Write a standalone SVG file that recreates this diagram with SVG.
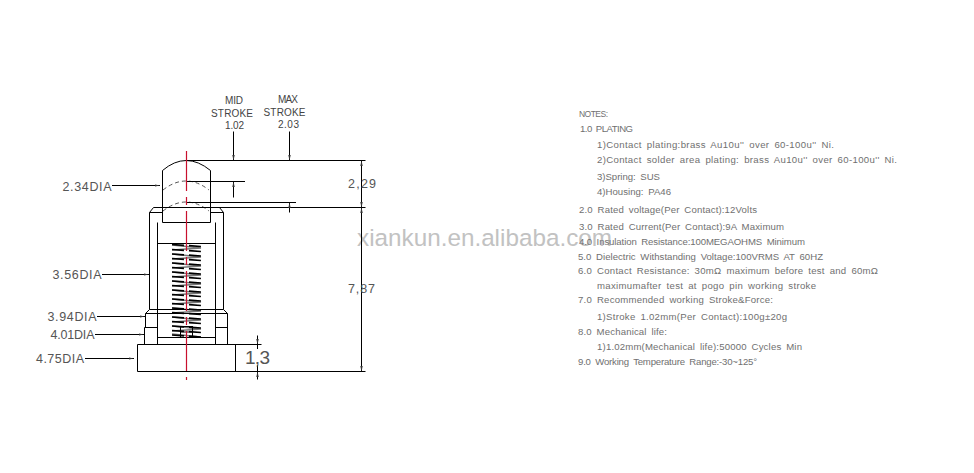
<svg xmlns="http://www.w3.org/2000/svg" width="974" height="473" viewBox="0 0 974 473">
<defs>
<marker id="tip" markerUnits="userSpaceOnUse" markerWidth="6" markerHeight="4" refX="5.500" refY="2" orient="auto"><path d="M0 .8L5.500 2L0 3.200Z" fill="#333"/></marker>
</defs>
<style>
text{font-family:"Liberation Sans",Arial,sans-serif}
.wm{font-size:24.3px;fill:#c2c2c2}
.d{font-size:12.5px;fill:#555}
.s{font-size:10px;fill:#444}
.n{font-size:9.6px;fill:#707070;word-spacing:2px}
.l{fill:none;stroke:#000;stroke-width:1}
.a{fill:none;stroke:#000;stroke-width:1;marker-end:url(#tip)}
.dash{fill:none;stroke:#555;stroke-width:1;stroke-dasharray:4 3}
.c{fill:none;stroke:#c8102e;stroke-width:1.2;stroke-dasharray:40 6 8 6}
.sg{fill:none;stroke:#777;stroke-width:1.5}
.sb{fill:none;stroke:#000;stroke-width:1.7;stroke-dasharray:12 5 12}
</style>
<rect width="974" height="473" fill="#fff"/>
<text class="wm" x="357" y="246" textLength="255" lengthAdjust="spacingAndGlyphs">xiankun.en.alibaba.com</text>
<g id="spring">
<path class="sg" d="M172 245L201 248L172 250M172 254L201 257L172 259M172 263L201 266L172 268M172 272L201 275L172 277M172 281L201 284L172 286M172 290L201 293L172 295M172 299L201 302L172 304M172 308L201 311L172 313M172 317L201 320L172 322M172 326L201 329L172 331M172 334L201 337"/>
<path class="sb" d="M172 244.500L201 246.500M172 249.500L201 251.500M172 254L201 256M172 258.500L201 260.500M172 263L201 265M172 267.500L201 269.500M172 272L201 274M172 276.500L201 278.500M172 281L201 283M172 285.500L201 287.500M172 290L201 292M172 294.500L201 296.500M172 299L201 301M172 303.500L201 305.500M172 308L201 310M172 312.500L201 314.500M172 317L201 319M172 321.500L201 323.500M172 326L201 328M172 330.500L201 332.500M172 335L201 337"/>
</g>
<g id="plunger">
<path class="l" d="M162.500 222.500V170.500Q186 150.500 210.500 170.500V222.500M162.500 222.500H210.500"/>
<path class="dash" d="M163 190Q186 172 209 190M163 211Q186 193 209 211"/>
</g>
<g id="housing">
<path class="l" d="M149.500 212.500V309.500M223.500 212.500V309.500M149.500 212.500L153.500 207.500H219.500L223.500 212.500M149.500 212.500H162.500M210.500 212.500H223.500M157.500 222.500V344.500M215.500 222.500V344.500M157.500 243.500H215.500M149.500 309.500H223.500M149.500 309.500L145.500 313.500H227.500L223.500 309.500M145.500 313.500V327.500M227.500 313.500V344.500M144.500 327.500H157.500M215.500 327.500H227.500M144.500 327.500V344.500M157.500 337.500H215.500"/>
<rect class="l" x="180.500" y="326.500" width="12" height="11"/>
<path class="l" d="M180.500 332H192.500"/>
</g>
<g id="base">
<path class="l" d="M137.500 344.500H261.500M137.500 344.500V371.500H365.500M235.500 344.500V371.500"/>
</g>
<g id="connectors">
<path class="l" d="M186 160.500H365.500M186 181.500H245M186 202.500H296M219 207.500H365.500"/>
<path class="a" d="M361.500 190V160.500"/>
<path class="a" d="M361.500 190V207.500"/>
<path class="a" d="M361.500 290V207.500"/>
<path class="a" d="M361.500 290V371.500"/>
<path class="a" d="M233.500 131.500V160.500"/>
<path class="a" d="M289.500 131.500V160.500"/>
<path class="a" d="M233.500 197.500V181.500"/>
<path class="a" d="M289.500 212.500V202.500"/>
<path class="a" d="M257.500 335.500V344.500"/>
<path class="l" d="M257.500 344.500V349"/>
<path class="a" d="M257.500 379.500V371.500"/>
<path class="l" d="M257.500 371.500V365"/>
<path class="a" d="M112 185.500H160"/>
<path class="a" d="M102 274.500H149"/>
<path class="a" d="M97 316.500H145"/>
<path class="a" d="M95 334.500H144"/>
<path class="a" d="M85 358.500H134"/>
<path class="c" d="M186.500 151V380"/>
</g>
<g id="dimension-labels">
<text class="s" x="225" y="104" textLength="18">MID</text>
<text class="s" x="211" y="116.500" textLength="42">STROKE</text>
<text class="s" x="225" y="129" textLength="19">1.02</text>
<text class="s" x="278" y="103" textLength="20">MAX</text>
<text class="s" x="263.500" y="116" textLength="42">STROKE</text>
<text class="s" x="278" y="128" textLength="21">2.03</text>
<text class="d" x="348" y="188" textLength="28">2,29</text>
<text class="d" x="348" y="293" textLength="27">7,87</text>
<text class="d" style="font-size:19px" x="245" y="363.500" textLength="25">1,3</text>
<text class="d" x="62.500" y="191" textLength="49">2.34DIA</text>
<text class="d" x="52.500" y="279" textLength="49">3.56DIA</text>
<text class="d" x="47.500" y="321" textLength="49">3.94DIA</text>
<text class="d" x="50.500" y="339" textLength="44">4.01DIA</text>
<text class="d" x="36" y="363" textLength="48">4.75DIA</text>
</g>
<g id="notes">
<text class="n" style="font-size:8.500px" x="579" y="117" textLength="29">NOTES:</text>
<text class="n" x="580" y="132" textLength="53">1.0 PLATING</text>
<text class="n" x="597" y="148" textLength="237">1)Contact plating:brass Au10u'' over 60-100u'' Ni.</text>
<text class="n" x="597" y="163" textLength="300">2)Contact solder area plating: brass Au10u'' over 60-100u'' Ni.</text>
<text class="n" x="597" y="180" textLength="63">3)Spring: SUS</text>
<text class="n" x="597" y="195" textLength="74">4)Housing: PA46</text>
<text class="n" x="579" y="213" textLength="178">2.0 Rated voltage(Per Contact):12Volts</text>
<text class="n" x="579" y="230" textLength="205">3.0 Rated Current(Per Contact):9A Maximum</text>
<text class="n" x="579" y="245" textLength="226">4.0 Insulation Resistance:100MEGAOHMS Minimum</text>
<text class="n" x="578" y="260" textLength="245">5.0 Dielectric Withstanding Voltage:100VRMS AT 60HZ</text>
<text class="n" x="578" y="274" textLength="300">6.0 Contact Resistance: 30mΩ maximum before test and 60mΩ</text>
<text class="n" x="597" y="289" textLength="219">maximumafter test at pogo pin working stroke</text>
<text class="n" x="578" y="303" textLength="195">7.0 Recommended working Stroke&amp;Force:</text>
<text class="n" x="597" y="320" textLength="190">1)Stroke 1.02mm(Per Contact):100g±20g</text>
<text class="n" x="578" y="335" textLength="89">8.0 Mechanical life:</text>
<text class="n" x="597" y="350" textLength="205">1)1.02mm(Mechanical life):50000 Cycles Min</text>
<text class="n" x="578" y="365" textLength="179">9.0 Working Temperature Range:-30~125°</text>
</g>
</svg>
